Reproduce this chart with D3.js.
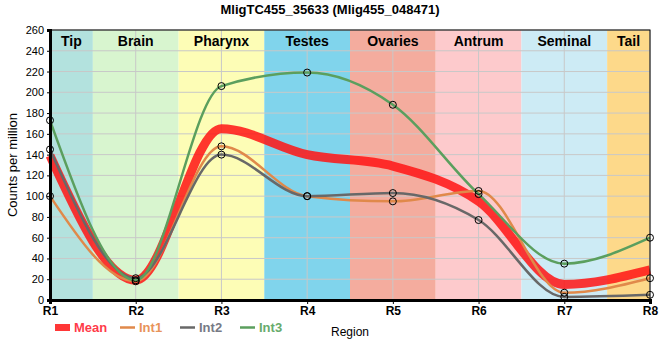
<!DOCTYPE html>
<html>
<head>
<meta charset="utf-8">
<script src="https://cdn.jsdelivr.net/npm/d3@7"></script>
<style>
  body { margin: 0; background: #fff; }
  svg { font-family: "Liberation Sans", Arial, sans-serif; }
</style>
</head>
<body>
<svg id="chart" width="660" height="360"></svg>
<script>
// data
const regions = ['R1', 'R2', 'R3', 'R4', 'R5', 'R6', 'R7', 'R8'];
const bandNames = ['Tip', 'Brain', 'Pharynx', 'Testes', 'Ovaries', 'Antrum', 'Seminal', 'Tail'];
const bandColors = ['#b3e2de', '#d8f5cf', '#fdfdb6', '#80d4ec', '#f4ac9e', '#fdcacc', '#cdebf5', '#fdd98a'];
const int1 = [100, 18, 148, 100, 95, 105, 7, 21];
const int2 = [145, 21, 140, 100, 103, 77, 3, 5];
const int3 = [173, 19, 206, 219, 188, 102, 35, 60];
const mean = [139, 19, 165, 140, 129, 95, 15, 29];
const yTicks = d3.range(0, 261, 20);

const series = [
  { name: 'Mean', values: mean, color: 'rgba(255,20,20,0.85)', text: '#ff3b4a', width: 9, dots: false },
  { name: 'Int1', values: int1, color: '#e0894a', text: '#e8935a', width: 2.5, dots: true },
  { name: 'Int2', values: int2, color: '#686868', text: '#777a85', width: 2.5, dots: true },
  { name: 'Int3', values: int3, color: '#5b9f5e', text: '#68ab6c', width: 2.5, dots: true }
];

const plot = { left: 50, right: 650, top: 30, bottom: 300 };
const svg = d3.select('#chart');

const x = d3.scaleLinear().domain([0, regions.length - 1]).range([plot.left, plot.right]);
const y = d3.scaleLinear().domain([0, 260]).range([plot.bottom, plot.top]);

// region bands
const clipped = i => Math.max(0, Math.min(regions.length - 1, i));
svg.append('g').selectAll('rect')
  .data(bandNames)
  .join('rect')
  .attr('x', (d, i) => x(clipped(i - 0.5)))
  .attr('y', plot.top)
  .attr('width', (d, i) => x(clipped(i + 0.5)) - x(clipped(i - 0.5)))
  .attr('height', plot.bottom - plot.top)
  .attr('fill', (d, i) => bandColors[i]);

// grid
const grid = svg.append('g').attr('stroke', '#c8c8c8').attr('stroke-width', 1);
grid.selectAll('.h').data(yTicks).join('line').attr('class', 'h')
  .attr('x1', plot.left).attr('x2', plot.right)
  .attr('y1', d => y(d)).attr('y2', d => y(d));
grid.selectAll('.v').data(regions).join('line').attr('class', 'v')
  .attr('x1', (d, i) => x(i)).attr('x2', (d, i) => x(i))
  .attr('y1', plot.top).attr('y2', plot.bottom);

// band labels
svg.append('g').selectAll('text')
  .data(bandNames)
  .join('text')
  .attr('x', (d, i) => (x(clipped(i - 0.5)) + x(clipped(i + 0.5))) / 2)
  .attr('y', plot.top + 16)
  .attr('text-anchor', 'middle')
  .attr('font-size', 14)
  .attr('font-weight', 'bold')
  .text(d => d);

// lines
const line = d3.line()
  .x((d, i) => x(i))
  .y(d => y(d))
  .curve(d3.curveMonotoneX);

svg.append('g').selectAll('path')
  .data(series)
  .join('path')
  .attr('d', d => line(d.values))
  .attr('fill', 'none')
  .attr('stroke', d => d.color)
  .attr('stroke-width', d => d.width);

// sample markers
series.filter(s => s.dots).forEach(s => {
  svg.append('g').selectAll('circle')
    .data(s.values)
    .join('circle')
    .attr('cx', (d, i) => x(i))
    .attr('cy', d => y(d))
    .attr('r', 3.5)
    .attr('fill', 'none')
    .attr('stroke', '#000')
    .attr('stroke-width', 1);
});

// frame
svg.append('rect')
  .attr('x', plot.left).attr('y', plot.top)
  .attr('width', plot.right - plot.left).attr('height', plot.bottom - plot.top)
  .attr('fill', 'none').attr('stroke', '#000').attr('stroke-width', 1);

// axes
const yAxis = svg.append('g')
  .attr('transform', `translate(${plot.left},0)`)
  .call(d3.axisLeft(y).tickValues(yTicks).tickSize(3).tickPadding(3));
yAxis.select('.domain').attr('stroke-width', 3);
yAxis.selectAll('text').attr('font-size', 11).attr('font-family', 'Liberation Sans, Arial, sans-serif');

const xAxis = svg.append('g')
  .attr('transform', `translate(0,${plot.bottom})`)
  .call(d3.axisBottom(x).tickValues(d3.range(regions.length)).tickFormat(i => regions[i]).tickSize(4).tickPadding(2));
xAxis.select('.domain').attr('stroke-width', 3);
xAxis.selectAll('text').attr('font-size', 12).attr('font-weight', 'bold')
  .attr('font-family', 'Liberation Sans, Arial, sans-serif');

// title
svg.append('text')
  .attr('x', 330).attr('y', 14)
  .attr('text-anchor', 'middle')
  .attr('font-size', 13).attr('font-weight', 'bold')
  .text('MligTC455_35633 (Mlig455_048471)');

// y label
svg.append('text')
  .attr('transform', `translate(17,${(plot.top + plot.bottom) / 2}) rotate(-90)`)
  .attr('text-anchor', 'middle')
  .attr('font-size', 13)
  .text('Counts per million');

// legend
const legendX = [55, 120, 180, 240];
const legend = svg.append('g').selectAll('g')
  .data(series)
  .join('g')
  .attr('transform', (d, i) => `translate(${legendX[i]},331)`);
legend.filter(d => d.name === 'Mean').append('rect')
  .attr('x', 0).attr('y', -7).attr('width', 15).attr('height', 7)
  .attr('fill', d => d.color);
legend.filter(d => d.name !== 'Mean').append('line')
  .attr('x1', 0).attr('x2', 15).attr('y1', -3.5).attr('y2', -3.5)
  .attr('stroke', d => d.color).attr('stroke-width', 2.5);
legend.append('text')
  .attr('x', 19).attr('y', 1)
  .attr('font-size', 13).attr('font-weight', 'bold')
  .attr('fill', d => d.text)
  .text(d => d.name);

svg.append('text')
  .attr('x', 331).attr('y', 336)
  .attr('font-size', 12)
  .text('Region');
</script>
</body>
</html>
